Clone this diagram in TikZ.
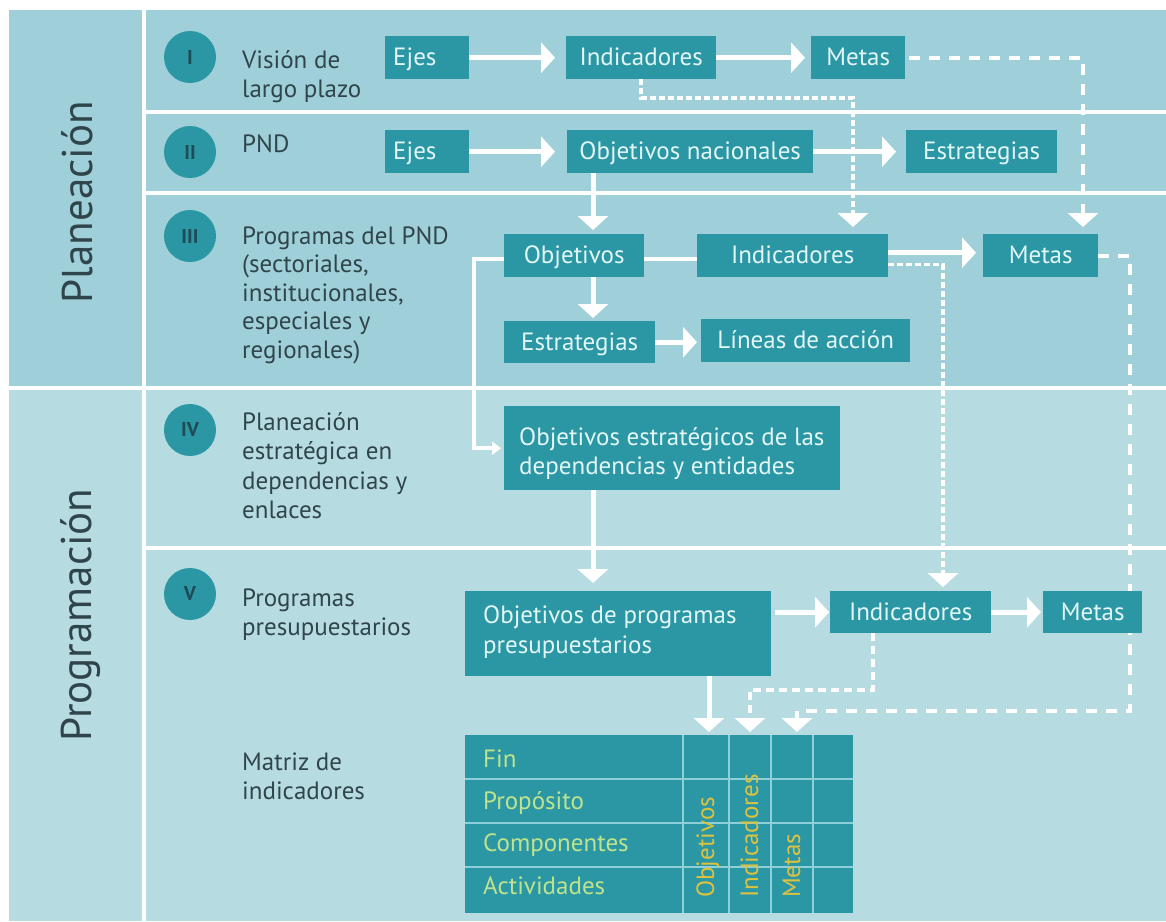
\documentclass[tikz,border=0pt]{standalone}
\usepackage{fontspec}
\setmainfont{PT Sans}
\usetikzlibrary{arrows.meta}

\definecolor{bgtop}{HTML}{9FD0D9}
\definecolor{bgbot}{HTML}{B6DCE2}
\definecolor{boxc}{HTML}{2B97A5}
\definecolor{boxtxt}{HTML}{E2F6F6}
\definecolor{lblc}{HTML}{30454B}
\definecolor{numc}{HTML}{1E4B55}
\definecolor{rowtxt}{HTML}{BFE38C}
\definecolor{coltxt}{HTML}{DCC23E}
\definecolor{gridc}{HTML}{8DD0D9}

\newcommand{\dgtext}{\fontsize{25}{30}\selectfont}
\newcommand{\dgtitle}{\fontsize{43}{48}\selectfont}
\newcommand{\dgnum}{\fontsize{20}{24}\selectfont\bfseries}

\pgfdeclarelayer{back}
\pgfdeclarelayer{under}
\pgfsetlayers{back,under,main}

\begin{document}
\begin{tikzpicture}[x=1pt, y=-1pt,
  sep/.style={white, line width=4pt},
  box/.style={fill=boxc, text=boxtxt, font=\dgtext, inner sep=0pt, anchor=north west,
              text height=18pt, text depth=2pt},
  boxline/.style={anchor=base west, text=boxtxt, font=\dgtext, inner sep=0pt},
  lbl/.style={anchor=base west, text=lblc, font=\dgtext, inner sep=0pt},
  title/.style={rotate=90, anchor=base, text=lblc, font=\dgtitle, inner sep=0pt},
  num/.style={circle, fill=boxc, text=numc, font=\dgnum, minimum size=52pt, inner sep=0pt},
  head/.style={-{Triangle[width=30pt,length=14pt]}},
  arr/.style={white, line width=5pt, head},
  ln/.style={white, line width=4pt},
  smallhead/.style={-{Triangle[width=13pt,length=9pt]}},
  dshl/.style={white, line width=4pt, dash pattern=on 11pt off 9pt, head},
  dshd/.style={white, line width=3.5pt, dash pattern=on 6pt off 3pt, head},
  dshm/.style={white, line width=3.5pt, dash pattern=on 8pt off 5pt, head},
  grid/.style={gridc, line width=2pt},
  rowlbl/.style={anchor=base west, text=rowtxt, font=\dgtext, inner sep=0pt},
  collbl/.style={rotate=90, anchor=base west, text=coltxt, font=\dgtext, inner sep=0pt}
]
\useasboundingbox (0,0) rectangle (1166,921);

\begin{pgfonlayer}{back}
\fill[white] (0,0) rectangle (1166,921);
% background bands
\fill[bgtop] (9,10) rectangle (1166,388);
\fill[bgbot] (9,388) rectangle (1166,921);
% separators
\draw[sep] (144,10) -- (144,921);
\draw[sep] (144,112) -- (1166,112);
\draw[sep] (144,193) -- (1166,193);
\draw[sep] (9,388) -- (1166,388);
\draw[sep] (144,548) -- (1166,548);
\end{pgfonlayer}

% section titles
\node[title] (tplan) at (92,202) {Planeación};
\node[title] (tprog) at (91,615) {Programación};

% level markers
\node[num] (c1) at (190,57) {I};
\node[num] (c2) at (190,152) {II};
\node[num] (c3) at (190,236) {III};
\node[num] (c4) at (190,430) {IV};
\node[num] (c5) at (190,594) {V};

% level labels
\node[lbl] (l1a) at (242,68) {Visión de};
\node[lbl] (l1b) at (242,97) {largo plazo};
\node[lbl] (l2a) at (242,152) {PND};
\node[lbl] (l3a) at (242,244) {Programas del PND};
\node[lbl] (l3b) at (242,272.5) {(sectoriales,};
\node[lbl] (l3c) at (242,301) {institucionales,};
\node[lbl] (l3d) at (242,329.5) {especiales y};
\node[lbl] (l3e) at (242,358) {regionales)};
\node[lbl] (l4a) at (242,430) {Planeación};
\node[lbl] (l4b) at (242,459.5) {estratégica en};
\node[lbl] (l4c) at (242,489) {dependencias y};
\node[lbl] (l4d) at (242,518.5) {enlaces};
\node[lbl] (l5a) at (242,606) {Programas};
\node[lbl] (l5b) at (242,635) {presupuestarios};
\node[lbl] (l6a) at (242,770) {Matriz de};
\node[lbl] (l6b) at (242,799) {indicadores};

% row I
\node[box, minimum width=84pt, minimum height=43pt, text width=68pt, align=left] (ejes1) at (385,36) {Ejes};
\node[box, minimum width=150pt, minimum height=43pt] (ind1) at (566,36) {Indicadores};
\node[box, minimum width=94pt, minimum height=43pt] (met1) at (811,36) {Metas};

% row II
\node[box, minimum width=84pt, minimum height=43pt, text width=68pt, align=left] (ejes2) at (385,130) {Ejes};
\node[box, minimum width=246pt, minimum height=43pt] (onac) at (567,130) {Objetivos nacionales};
\node[box, minimum width=151pt, minimum height=43pt] (estr2) at (906,130) {Estrategias};

% row III
\node[box, minimum width=140pt, minimum height=43pt] (obj3) at (504,234) {Objetivos};
\node[box, minimum width=191pt, minimum height=43pt] (ind3) at (697,234) {Indicadores};
\node[box, minimum width=115pt, minimum height=43pt] (met3) at (983,234) {Metas};
\node[box, minimum width=151pt, minimum height=42pt] (estr3) at (504,321) {Estrategias};
\node[box, minimum width=209pt, minimum height=43pt] (lin) at (701,319) {Líneas de acción};

% row IV
\node[box, minimum width=336pt, minimum height=84pt] (oe) at (504,406) {};
\node[boxline] (oet1) at (519,445) {Objetivos estratégicos de las};
\node[boxline] (oet2) at (519,474) {dependencias y entidades};

% row V
\node[box, minimum width=306pt, minimum height=85pt] (ob5) at (465,591) {};
\node[boxline] (ob5t1) at (483,623) {Objetivos de programas};
\node[boxline] (ob5t2) at (483,653) {presupuestarios};
\node[box, minimum width=161pt, minimum height=42pt] (ind5) at (830,591) {Indicadores};
\node[box, minimum width=99pt, minimum height=42pt] (met5) at (1043,591) {Metas};

% indicator matrix
\node[box, minimum width=388pt, minimum height=178pt] (mat) at (465,735) {};
\foreach \yy in {779,823,867} \draw[grid] (465,\yy) -- (853,\yy);
\foreach \xx in {683,729,771,813} \draw[grid] (\xx,735) -- (\xx,913);
\node[rowlbl] (rfin) at (483,767) {Fin};
\node[rowlbl] (rpro) at (483,809) {Propósito};
\node[rowlbl] (rcom) at (483,851) {Componentes};
\node[rowlbl] (ract) at (483,894) {Actividades};
\node[collbl] (cobj) at (714,898) {Objetivos};
\node[collbl] (cind) at (758,898) {Indicadores};
\node[collbl] (cmet) at (800,898) {Metas};

% routing columns and bends
\coordinate (kA) at (1083,0);
\coordinate (kC) at (853,98);
\coordinate (kD) at (593,0);
\coordinate (kE) at (474,0);
\coordinate (kF) at (943,0);
\coordinate (kG) at (1130,711);
\coordinate (kH) at (797,711);
\coordinate (kI) at (709,0);
\coordinate (kJ) at (873,690);
\coordinate (kK) at (750,690);

% connectors
\draw[arr] (ejes1.east) -- ([xshift=-11pt]ind1.west);
\draw[arr] (ind1.east) -- ([xshift=-6pt]met1.west);
\draw[dshl] ([xshift=4pt]met1.east) -| ([yshift=7pt]kA |- met3.north);
\draw[dshd] (ind1.south) |- (kC) -- ([yshift=7pt]kC |- ind3.north);

\draw[arr] (ejes2.east) -- ([xshift=-12pt]onac.west);
\draw[arr] (onac.east) -- ([xshift=-10pt]estr2.west);
\draw[arr] (kD |- onac.south) -- ([yshift=4pt]kD |- obj3.north);

\draw[ln] ([yshift=-3pt]obj3.east) -- ([yshift=-3pt]obj3.east -| ind3.west);
\draw[ln, smallhead] ([yshift=-3pt]obj3.west) -| (kE |- oe.west) -- ([xshift=-3pt]oe.west);
\draw[arr] (kD |- obj3.south) -- ([yshift=3pt]kD |- estr3.north);
\draw[arr] (estr3.east) -- ([xshift=-4pt]estr3.east -| lin.west);
\draw[arr] ([yshift=3pt]ind3.east) -- ([yshift=3pt,xshift=-7pt]met3.west);
\draw[dshd] ([yshift=-9pt]ind3.east) -| ([yshift=4pt]kF |- ind5.north);
\begin{pgfonlayer}{under}
\draw[dshl] (met3.east) -| (kG) -- (kH) -- ([yshift=3pt]kH |- mat.north);
\end{pgfonlayer}

\draw[arr] (kD |- oe.south) -- ([yshift=8pt]kD |- ob5.north);
\draw[arr] ([xshift=4pt]ob5.east |- ind5.west) -- ([xshift=-1pt]ind5.west);
\draw[arr] (ind5.east) -- ([xshift=-2pt]met5.west);
\draw[arr] (kI |- ob5.south) -- ([yshift=3pt]kI |- mat.north);
\draw[dshm] (kJ |- ind5.south) -- (kJ) -- (kK) -- ([yshift=3pt]kK |- mat.north);
\end{tikzpicture}
\end{document}
